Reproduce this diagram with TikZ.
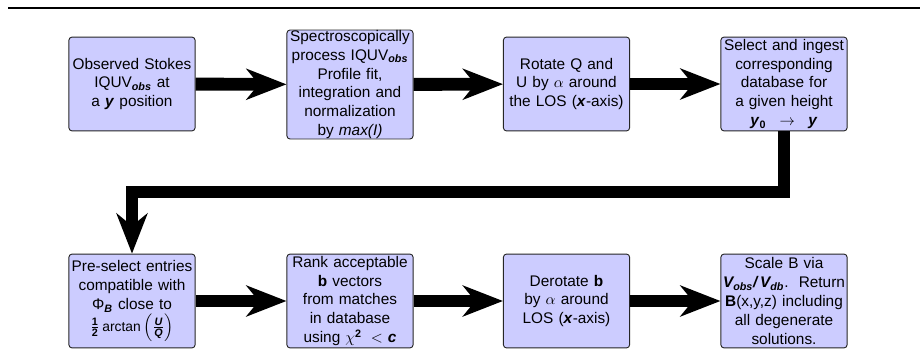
\documentclass[tikz,border=0pt]{standalone}
\usepackage{amsmath,amssymb}
\usepackage{fontspec}
\setmainfont{Liberation Sans}
\usepackage{tikz}
\usetikzlibrary{arrows.meta,positioning,calc}
\usepackage{xcolor}

\newcommand{\bi}[1]{\textbf{\textit{#1}}}

\begin{document}
\begin{tikzpicture}[x=0.65pt, y=-0.65pt,
    box/.style={draw=black!85, line width=0.6pt, fill=blue!20, rounded corners=2pt,
      minimum width=82pt, minimum height=61pt, text width=80pt, align=center,
      inner sep=0pt, font=\fontsize{10}{12.3}\selectfont},
    flow/.style={line width=8.4pt, miter limit=10,
      -{Stealth[length=26pt, width=20pt, inset=8pt]}}]
                    \useasboundingbox (0,0) rectangle (920,349);
                    % top rule
                    \draw[line width=1.4pt] (8,8) -- (920,8);
                    % Row 1
                    \node[box] (obs) at (132,84) {Observed Stokes\\ IQUV\textsubscript{\bi{obs}} at\\ a \bi{y} position};
                    \node[box, minimum height=70pt] (proc) at (350,84.5) {Spectroscopically\\ process IQUV\textsubscript{\bi{obs}}\\ Profile fit,\\ integration and\\ normalization\\ by \textit{max(I)}};
                    \node[box] (rot) at (566.5,84) {Rotate Q and\\ U by $\alpha$ around\\ the LOS (\bi{x}-axis)};
                    \node[box] (sel) at (784,84) {Select and ingest\\ corresponding\\ database for\\ a given height\\ \bi{y}\textsubscript{\textbf{0}} $\;\rightarrow\;$ \bi{y}};
                    % Row 2
                    \node[box] (pre) at (132,301) {Pre-select entries\\ compatible with\\ Φ\textsubscript{\bi{B}} close to\\ $\frac{\textbf{1}}{\textbf{2}}\,\mbox{\small arctan}\left(\frac{\bi{U}}{\bi{Q}}\right)$};
                    \node[box] (rank) at (350,301) {Rank acceptable\\ \textbf{b} vectors\\ from matches\\ in database\\ using $\chi^{\mathbf{2}}\,<$ \bi{c}};
                    \node[box] (derot) at (566.5,301) {Derotate \textbf{b}\\ by $\alpha$ around\\ LOS (\bi{x}-axis)};
                    \node[box] (scale) at (784,301) {Scale B via\\ \bi{V\textsubscript{obs}/\,V\textsubscript{db}}.\ \ Return\\ \textbf{B}(x,y,z) including\\ all degenerate\\ solutions.};
                    % arrows
                    \draw[flow] (obs) -- (proc);
                    \draw[flow] (proc) -- (rot);
                    \draw[flow] (rot) -- (sel);
                    \coordinate (turn) at (458,192);
                    \draw[flow] (sel.south) |- (turn) -| (pre.north);
                    \draw[flow] (pre) -- (rank);
                    \draw[flow] (rank) -- (derot);
                    \draw[flow] (derot) -- (scale);
\end{tikzpicture}
\end{document}
